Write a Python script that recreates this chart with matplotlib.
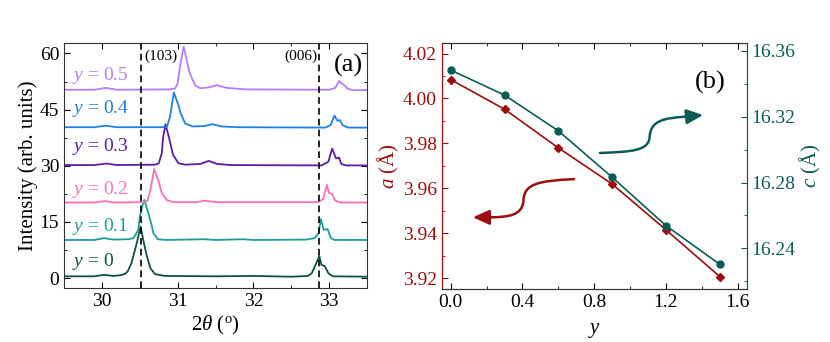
import numpy as np
import matplotlib
matplotlib.use("Agg")
import matplotlib.pyplot as plt
from matplotlib.path import Path
from matplotlib.patches import FancyArrowPatch
from matplotlib.ticker import MultipleLocator

plt.rcParams['font.family'] = ['Liberation Serif', 'DejaVu Serif']
plt.rcParams['mathtext.fontset'] = 'custom'
plt.rcParams['mathtext.rm'] = 'Liberation Serif'
plt.rcParams['mathtext.it'] = 'Liberation Serif:italic'
plt.rcParams['mathtext.bf'] = 'Liberation Serif:bold'

# ---- panel (a): XRD patterns, traced points (2theta, intensity offset) ----
x_y00 = [29.5, 29.9, 30.03, 30.15, 30.25, 30.31, 30.34, 30.39, 30.46, 30.51, 30.56, 30.59, 30.64,
         30.70, 30.83, 31.5, 32.0, 32.5, 32.72, 32.77, 32.81, 32.87, 32.90, 32.94, 32.99, 33.05, 33.5]
i_y00 = [0.5, 0.5, 0.9, 0.6, 0.8, 1.2, 1.8, 4.0, 9.3, 13.8, 8.9, 6.2, 2.7,
         1.1, 0.6, 0.5, 0.6, 0.4, 0.6, 1.3, 3.1, 5.9, 3.5, 3.3, 1.3, 0.5, 0.4]

x_y01 = [29.5, 29.9, 30.03, 30.15, 30.35, 30.42, 30.48, 30.50, 30.53, 30.56, 30.60, 30.62, 30.65,
         30.68, 30.74, 30.85, 31.35, 31.5, 31.87, 32.0, 32.7, 32.81, 32.86, 32.89, 32.93, 32.98,
         33.02, 33.07, 33.5]
i_y01 = [10.2, 10.2, 10.7, 10.3, 10.4, 10.7, 12.9, 16.4, 19.1, 20.9, 18.2, 16.9, 14.7,
         12.0, 10.4, 10.2, 10.4, 10.2, 10.4, 10.2, 10.3, 10.7, 12.0, 15.8, 12.9, 13.1,
         10.8, 10.2, 10.2]

x_y02 = [29.5, 29.9, 30.04, 30.15, 30.55, 30.60, 30.64, 30.69, 30.75, 30.79, 30.86, 30.95, 31.25,
         31.36, 31.5, 32.85, 32.92, 32.97, 33.00, 33.04, 33.08, 33.15, 33.5]
i_y02 = [20.2, 20.2, 20.6, 20.2, 20.3, 20.6, 23.5, 29.1, 25.8, 22.7, 20.8, 20.3, 20.3,
         20.7, 20.3, 20.3, 21.1, 24.9, 22.7, 22.5, 20.7, 20.2, 20.2]

x_y03 = [29.5, 29.9, 30.06, 30.2, 30.7, 30.75, 30.79, 30.81, 30.84, 30.88, 30.91, 30.94, 31.01,
         31.1, 31.3, 31.41, 31.52, 31.7, 32.9, 32.99, 33.04, 33.09, 33.13, 33.16, 33.22, 33.5]
i_y03 = [30.2, 30.2, 30.6, 30.2, 30.3, 30.6, 33.3, 37.8, 41.1, 38.0, 35.5, 32.9, 30.7,
         30.3, 30.5, 31.3, 30.5, 30.2, 30.1, 31.1, 34.6, 32.0, 32.2, 30.5, 30.1, 30.1]

x_y04 = [29.5, 29.9, 30.05, 30.2, 30.8, 30.86, 30.90, 30.95, 31.01, 31.04, 31.10, 31.2, 31.35,
         31.46, 31.58, 31.8, 32.95, 33.02, 33.07, 33.11, 33.14, 33.18, 33.25, 33.5]
i_y04 = [40.3, 40.3, 40.7, 40.3, 40.3, 40.5, 43.1, 49.6, 46.2, 44.0, 41.3, 40.5, 40.6,
         41.1, 40.5, 40.3, 40.2, 40.9, 43.4, 42.0, 42.2, 40.8, 40.2, 40.2]

x_y05 = [29.5, 29.9, 30.05, 30.2, 30.9, 30.97, 31.00, 31.03, 31.08, 31.13, 31.16, 31.23, 31.3,
         31.4, 31.52, 31.65, 31.9, 33.0, 33.08, 33.13, 33.2, 33.25, 33.32, 33.5]
i_y05 = [50.3, 50.3, 50.8, 50.3, 50.4, 50.7, 52.0, 56.4, 61.8, 57.3, 54.7, 51.5, 50.7,
         50.9, 51.5, 50.8, 50.4, 50.3, 50.8, 52.6, 51.5, 50.5, 50.2, 50.2]

xrd_labels = ["0", "0.1", "0.2", "0.3", "0.4", "0.5"]
xrd_colors = ["#0f4f4a", "#1c9e96", "#ff6fb8", "#5a1ca6", "#1f80e3", "#b67cff"]
label_y = [4.4, 13.9, 23.7, 35.1, 45.3, 54.0]
ref_peaks = [30.51, 32.87]
ref_names = ["(103)", "(006)"]

# ---- panel (b): lattice parameters ----
y_comp = [0.0, 0.3, 0.6, 0.9, 1.2, 1.5]
a_param = [4.0084, 3.9952, 3.9780, 3.9619, 3.9415, 3.9207]
c_param = [16.3483, 16.3331, 16.3114, 16.2832, 16.2538, 16.2303]

red = "#9c0d0f"
teal = "#0b5c58"

fig = plt.figure(figsize=(8.3, 3.42), dpi=100)
ax1 = fig.add_axes([0.0771, 0.157, 0.3651, 0.7164])
ax2 = fig.add_axes([0.5322, 0.154, 0.3674, 0.721])

curves = [(x_y00, i_y00), (x_y01, i_y01), (x_y02, i_y02),
          (x_y03, i_y03), (x_y04, i_y04), (x_y05, i_y05)]
for (xs, ys), col, lab, ly in zip(curves, xrd_colors, xrd_labels, label_y):
    ax1.plot(xs, ys, color=col, lw=1.3)
    ax1.text(29.6, ly, "$y$ = " + lab, color=col, fontsize=14, va="center", ha="left")

for xp in ref_peaks:
    ax1.axvline(xp, color="black", ls=(0, (4, 2.5)), lw=1.2)
ax1.text(30.56, 59.2, ref_names[0], fontsize=11, ha="left", va="center")
ax1.text(32.84, 59.2, ref_names[1], fontsize=11, ha="right", va="center")
ax1.text(33.25, 56.8, "(a)", fontsize=19, ha="center", va="center")

ax1.set_xlim(29.5, 33.5)
ax1.set_ylim(-2.7, 62.7)
ax1.xaxis.set_major_locator(MultipleLocator(1))
ax1.xaxis.set_minor_locator(MultipleLocator(0.5))
ax1.yaxis.set_major_locator(MultipleLocator(15))
ax1.yaxis.set_minor_locator(MultipleLocator(7.5))
ax1.tick_params(which="both", direction="in", top=True, right=True, labelsize=14)
ax1.tick_params(which="major", length=4)
ax1.tick_params(which="minor", length=2.5)
ax1.set_xlabel(r"2$\theta$ ($^{\rm o}$)", fontsize=15, labelpad=3)
ax1.set_ylabel("Intensity (arb. units)", fontsize=15, labelpad=1)
for s in ax1.spines.values():
    s.set_color("#333333")

# panel (b)
ax2.plot(y_comp, a_param, color=red, lw=1.2, marker="D", ms=4.5)
ax2.set_xlim(-0.05, 1.65)
ax2.set_ylim(3.915, 4.0248)
ax2.xaxis.set_major_locator(MultipleLocator(0.4))
ax2.xaxis.set_minor_locator(MultipleLocator(0.2))
ax2.yaxis.set_major_locator(MultipleLocator(0.02))
ax2.yaxis.set_minor_locator(MultipleLocator(0.01))
ax2.tick_params(which="both", direction="in", top=True, labelsize=14)
ax2.tick_params(axis="y", which="both", colors=red)
ax2.tick_params(which="major", length=4)
ax2.tick_params(which="minor", length=2.5)
ax2.set_xlabel("$y$", fontsize=15, labelpad=7)
ax2.set_ylabel("$a$ (Å)", fontsize=15, color=red, labelpad=1)
ax2.yaxis.set_major_formatter(matplotlib.ticker.FormatStrFormatter("%.2f"))
ax2.xaxis.set_major_formatter(matplotlib.ticker.FormatStrFormatter("%.1f"))

ax3 = ax2.twinx()
ax3.plot(y_comp, c_param, color=teal, lw=1.2, marker="o", ms=5)
ax3.set_ylim(16.2151, 16.3649)
ax3.yaxis.set_major_locator(MultipleLocator(0.04))
ax3.yaxis.set_minor_locator(MultipleLocator(0.02))
ax3.yaxis.set_major_formatter(matplotlib.ticker.FormatStrFormatter("%.2f"))
ax3.tick_params(axis="y", which="both", direction="in", colors=teal, labelsize=14)
ax3.tick_params(which="major", length=4)
ax3.tick_params(which="minor", length=2.5)
ax3.set_ylabel("$c$ (Å)", fontsize=15, color=teal, labelpad=2)

for a in (ax2, ax3):
    a.spines["left"].set_color(red)
    a.spines["right"].set_color(teal)
    a.spines["top"].set_color("#333333")
    a.spines["bottom"].set_color("#333333")

ax2.text(0.88, 0.84, "(b)", transform=ax2.transAxes, fontsize=19, ha="center", va="center")

# curved arrows pointing at the axes
teal_path = Path([(0.519, 0.553), (0.62, 0.558), (0.68, 0.56), (0.682, 0.62),
                  (0.685, 0.685), (0.73, 0.695), (0.80, 0.70), (0.857, 0.707)],
                 [Path.MOVETO, Path.CURVE4, Path.CURVE4, Path.CURVE4,
                  Path.CURVE4, Path.CURVE4, Path.CURVE4, Path.LINETO])
red_path = Path([(0.434, 0.447), (0.32, 0.44), (0.27, 0.43), (0.268, 0.36),
                 (0.265, 0.30), (0.22, 0.293), (0.16, 0.292), (0.102, 0.292)],
                [Path.MOVETO, Path.CURVE4, Path.CURVE4, Path.CURVE4,
                 Path.CURVE4, Path.CURVE4, Path.CURVE4, Path.LINETO])
for p, col in ((teal_path, teal), (red_path, red)):
    arr = FancyArrowPatch(path=p, transform=ax2.transAxes, arrowstyle="-|>,head_length=1.0,head_width=0.45",
                          mutation_scale=10, color=col, lw=1.8)
    ax3.add_patch(arr)

fig.savefig("out.png", dpi=100)
